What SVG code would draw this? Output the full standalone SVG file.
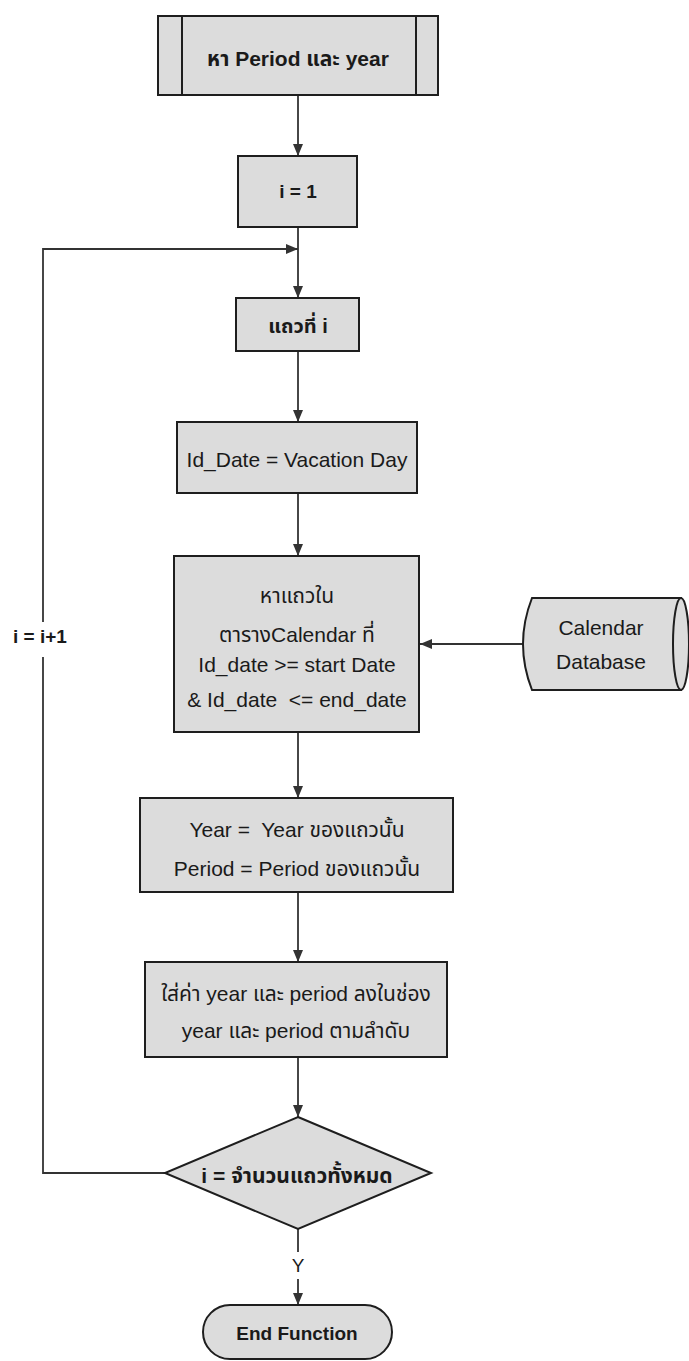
<svg xmlns="http://www.w3.org/2000/svg" width="689" height="1361" viewBox="0 0 689 1361">
  <style>
    .box { fill: #dcdcdc; stroke: #1e1e1e; stroke-width: 2; }
    .line { fill: none; stroke: #333; stroke-width: 1.8; }
    .t { font-family: "Liberation Sans", "Noto Sans Thai", "Noto Sans", "DejaVu Sans", sans-serif; font-size: 21px; fill: #1a1a1a; text-anchor: middle; dominant-baseline: central; }
    .b { font-weight: bold; }
    .s { font-size: 19px; }
    .m { font-size: 20px; }
  </style>
  <defs>
    <marker id="arrow" viewBox="0 0 12 10" refX="12" refY="5" markerWidth="12" markerHeight="10" markerUnits="userSpaceOnUse" orient="auto">
      <path d="M0,0 L12,5 L0,10 Z" fill="#333"/>
    </marker>
  </defs>

  <rect width="689" height="1361" fill="#ffffff"/>

  <!-- connectors -->
  <g id="connectors">
    <line class="line" x1="298" y1="95" x2="298" y2="156" marker-end="url(#arrow)"/>
    <line class="line" x1="298" y1="227" x2="298" y2="298" marker-end="url(#arrow)"/>
    <polyline class="line" points="165,1173 43,1173 43,249 298,249" marker-end="url(#arrow)"/>
    <line class="line" x1="298" y1="351" x2="298" y2="422" marker-end="url(#arrow)"/>
    <line class="line" x1="298" y1="493" x2="298" y2="556" marker-end="url(#arrow)"/>
    <line class="line" x1="523" y1="644" x2="420" y2="644" marker-end="url(#arrow)"/>
    <line class="line" x1="298" y1="732" x2="298" y2="798" marker-end="url(#arrow)"/>
    <line class="line" x1="298" y1="892" x2="298" y2="962" marker-end="url(#arrow)"/>
    <line class="line" x1="298" y1="1057" x2="298" y2="1117" marker-end="url(#arrow)"/>
    <line class="line" x1="298" y1="1229" x2="298" y2="1252"/>
    <line class="line" x1="298" y1="1279" x2="298" y2="1305" marker-end="url(#arrow)"/>
    <text class="t s" x="298" y="1265">Y</text>
    <rect x="10" y="622" width="60" height="35" fill="#ffffff"/>
    <text class="t b s" x="40" y="636">i = i+1</text>
  </g>

  <!-- predefined process -->
  <g id="find-period-year">
    <rect class="box" x="158" y="16" width="280" height="79"/>
    <line x1="182" y1="16" x2="182" y2="95" stroke="#1e1e1e" stroke-width="2"/>
    <line x1="416" y1="16" x2="416" y2="95" stroke="#1e1e1e" stroke-width="2"/>
    <text class="t b" x="298" y="58">หา Period และ year</text>
  </g>

  <g id="init-i">
    <rect class="box" x="238" y="156" width="119" height="71"/>
    <text class="t b s" x="298" y="191">i = 1</text>
  </g>

  <g id="row-i">
    <rect class="box" x="236" y="298" width="123" height="53"/>
    <text class="t b m" x="298" y="326">แถวที่ i</text>
  </g>

  <g id="id-date">
    <rect class="box" x="177" y="422" width="240" height="71"/>
    <text class="t" x="297" y="459">Id_Date = Vacation Day</text>
  </g>

  <g id="find-row">
    <rect class="box" x="174" y="556" width="245" height="176"/>
    <text class="t" x="297" y="595">หาแถวใน</text>
    <text class="t" x="297" y="634">ตารางCalendar ที่</text>
    <text class="t" x="297" y="664">Id_date &gt;= start Date</text>
    <text class="t" x="297" y="699" xml:space="preserve">&amp; Id_date  &lt;= end_date</text>
  </g>

  <g id="calendar-db">
    <path class="box" d="M532,598 L681,598 L681,690 L532,690 Q514,644 532,598 Z"/>
    <ellipse class="box" cx="681" cy="644" rx="8" ry="46"/>
    <text class="t" x="601" y="627">Calendar</text>
    <text class="t" x="601" y="661">Database</text>
  </g>

  <g id="set-year-period">
    <rect class="box" x="140" y="798" width="313" height="94"/>
    <text class="t" x="297" y="829" xml:space="preserve">Year =  Year ของแถวนั้น</text>
    <text class="t" x="297" y="868">Period = Period ของแถวนั้น</text>
  </g>

  <g id="store-values">
    <rect class="box" x="145" y="962" width="302" height="95"/>
    <text class="t" x="296" y="993">ใส่ค่า year และ period ลงในช่อง</text>
    <text class="t" x="296" y="1030">year และ period ตามลำดับ</text>
  </g>

  <g id="check-last-row">
    <polygon class="box" points="298,1117 431,1173 298,1229 165,1173"/>
    <text class="t b" x="297" y="1175">i = จำนวนแถวทั้งหมด</text>
  </g>

  <g id="end-function">
    <rect class="box" x="203" y="1305" width="189" height="54" rx="27" ry="27"/>
    <text class="t b s" x="297" y="1333">End Function</text>
  </g>
</svg>
